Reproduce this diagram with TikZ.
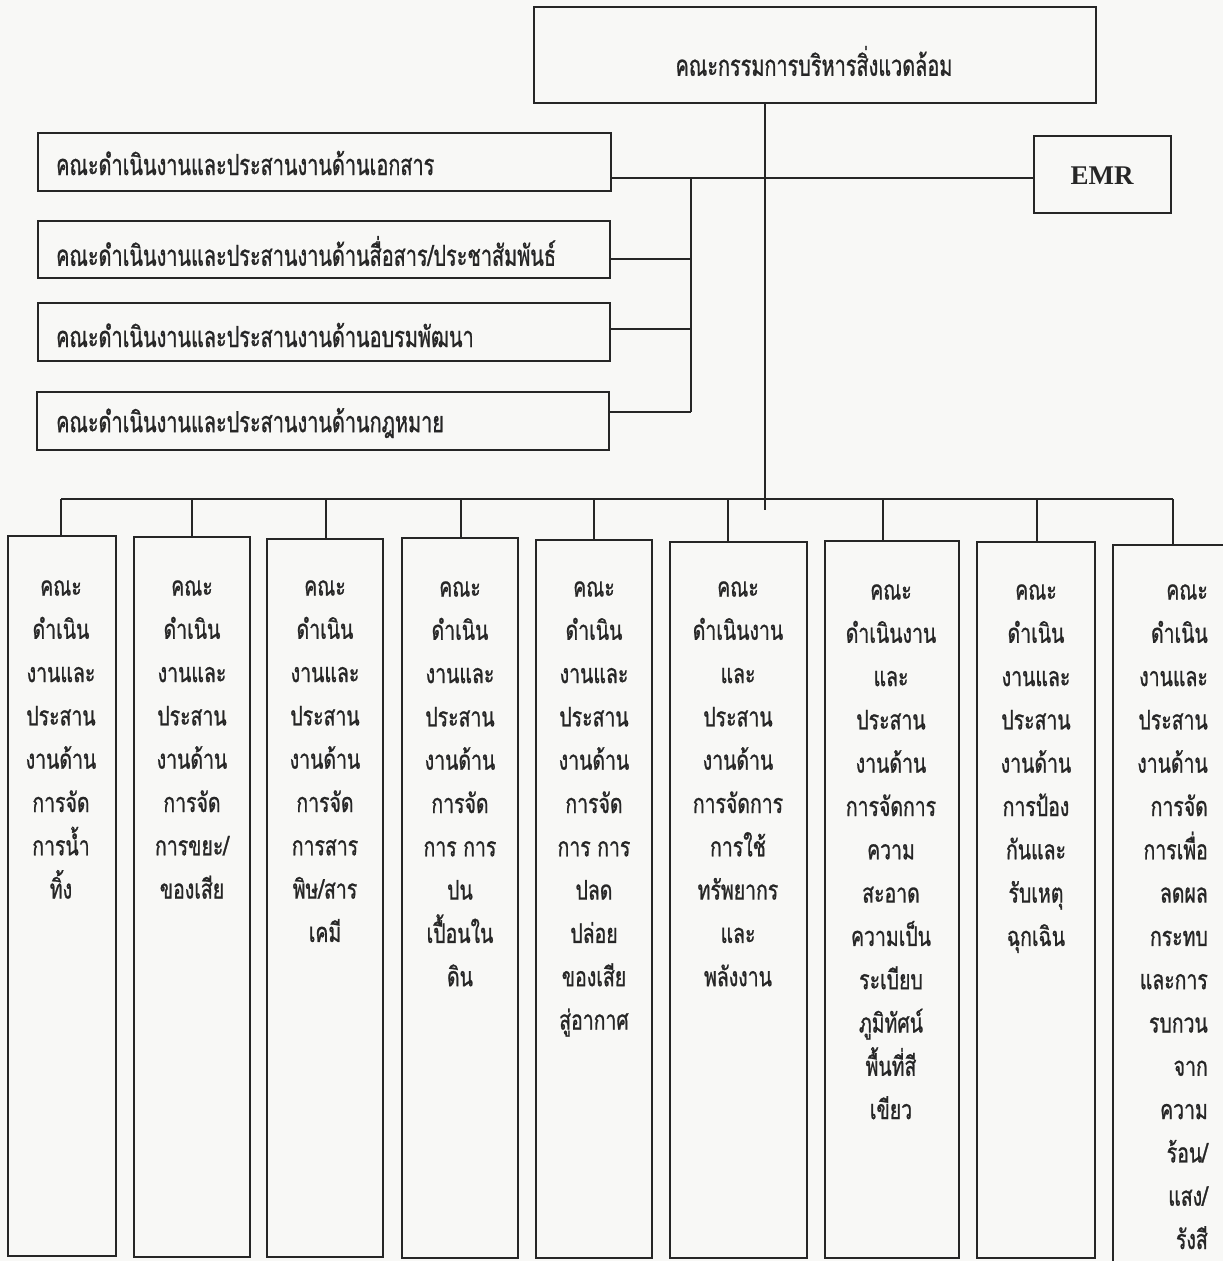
\documentclass[tikz,border=0pt]{standalone}
\usepackage{fontspec}
\setmainfont{Liberation Serif}
\newfontfamily\thai[Script=Thai,FakeStretch=0.72,FakeBold=0.9]{Loma}
\newfontfamily\thaih[Script=Thai,FakeStretch=0.685,FakeBold=0.9]{Loma}
\usetikzlibrary{fit}
\definecolor{ink}{HTML}{262626}
\definecolor{paper}{HTML}{F8F8F6}
\tikzset{
  box/.style={draw=ink, line width=2pt, inner sep=0pt},
  conn/.style={draw=ink, line width=1.9pt},
  vtext/.style={font=\thai\fontsize{27}{43.3}\selectfont, align=center, anchor=north, inner sep=0pt, text=ink},
  vtextr/.style={vtext, align=right, anchor=north east},
  htext/.style={font=\thaih\fontsize{29}{34}\selectfont, anchor=west, inner sep=0pt, text=ink},
}
\begin{document}
\begin{tikzpicture}[x=1pt,y=-1pt]
\useasboundingbox (0,0) rectangle (1223,1261);
\clip (0,0) rectangle (1223,1261);
\fill[paper] (0,0) rectangle (1223,1261);

% top box
\node[box, fit={(534,7) (1096,103)}] (top) {};
\node[htext, anchor=center] (toptxt) at (814,61) {คณะกรรมการบริหารสิ่งแวดล้อม};

% EMR
\node[box, fit={(1034,136) (1171,213)}] (emr) {};
\node[font=\bfseries\fontsize{27}{30}\selectfont, text=ink, inner sep=0pt] (emrtxt) at (1102,176) {EMR};

% left boxes
\node[box, fit={(38,133) (611,191)}] (L1) {};
\node[box, fit={(38,221) (610,278)}] (L2) {};
\node[box, fit={(38,303) (610,361)}] (L3) {};
\node[box, fit={(37,392) (609,450)}] (L4) {};
\node[htext] (L1t) at (56,163) {คณะดำเนินงานและประสานงานด้านเอกสาร};
\node[htext] (L2t) at (56,251) {คณะดำเนินงานและประสานงานด้านสื่อสาร/ประชาสัมพันธ์};
\node[htext] (L3t) at (56,335) {คณะดำเนินงานและประสานงานด้านอบรมพัฒนา};
\node[htext] (L4t) at (56,423) {คณะดำเนินงานและประสานงานด้านกฎหมาย};

% connector coordinates
\coordinate (jM) at (765,178);
\coordinate (mEnd) at (765,510);
\coordinate (jS1) at (691,178);
\coordinate (s2) at (691,259);
\coordinate (s3) at (691,329);
\coordinate (s4) at (691,412);

\draw[conn] (top.south -| jM) -- (mEnd);
\draw[conn] (L1.east |- jM) -- (emr.west |- jM);
\draw[conn] (jS1) -- (s4);
\draw[conn] (L2.east |- s2) -- (s2);
\draw[conn] (L3.east |- s3) -- (s3);
\draw[conn] (L4.east |- s4) -- (s4);

% bottom boxes
\node[box, fit={(8,536) (116,1256)}] (b1) {};
\node[box, fit={(134,537) (250,1257)}] (b2) {};
\node[box, fit={(267,539) (383,1257)}] (b3) {};
\node[box, fit={(402,538) (518,1258)}] (b4) {};
\node[box, fit={(536,540) (652,1258)}] (b5) {};
\node[box, fit={(670,542) (807,1258)}] (b6) {};
\node[box, fit={(825,541) (959,1258)}] (b7) {};
\node[box, fit={(977,542) (1095,1258)}] (b8) {};
\node[box, fit={(1113,545) (1250,1280)}] (b9) {};

% bus and drops
\coordinate (d1) at (61,499);
\coordinate (d2) at (192,499);
\coordinate (d3) at (326,499);
\coordinate (d4) at (461,499);
\coordinate (d5) at (594,499);
\coordinate (d6) at (728,499);
\coordinate (d7) at (883,499);
\coordinate (d8) at (1037,499);
\coordinate (d9) at (1173,499);
\draw[conn] (d1) -- (d9);
\foreach \i in {1,...,9} { \draw[conn] (d\i) -- (b\i.north -| d\i); }

% bottom texts
\node[vtext] (t1) at (61,565) {\strut คณะ\\ดำเนิน\\งานและ\\ประสาน\\งานด้าน\\การจัด\\การน้ำ\\ทิ้ง};
\node[vtext] (t2) at (192,565) {\strut คณะ\\ดำเนิน\\งานและ\\ประสาน\\งานด้าน\\การจัด\\การขยะ/\\ของเสีย};
\node[vtext] (t3) at (325,565) {\strut คณะ\\ดำเนิน\\งานและ\\ประสาน\\งานด้าน\\การจัด\\การสาร\\พิษ/สาร\\เคมี};
\node[vtext] (t4) at (460,566) {\strut คณะ\\ดำเนิน\\งานและ\\ประสาน\\งานด้าน\\การจัด\\การ การ\\ปน\\เปื้อนใน\\ดิน};
\node[vtext] (t5) at (594,566) {\strut คณะ\\ดำเนิน\\งานและ\\ประสาน\\งานด้าน\\การจัด\\การ การ\\ปลด\\ปล่อย\\ของเสีย\\สู่อากาศ};
\node[vtext] (t6) at (738,566) {\strut คณะ\\ดำเนินงาน\\และ\\ประสาน\\งานด้าน\\การจัดการ\\การใช้\\ทรัพยากร\\และ\\พลังงาน};
\node[vtext] (t7) at (891,569) {\strut คณะ\\ดำเนินงาน\\และ\\ประสาน\\งานด้าน\\การจัดการ\\ความ\\สะอาด\\ความเป็น\\ระเบียบ\\ภูมิทัศน์\\พื้นที่สี\\เขียว};
\node[vtext] (t8) at (1036,569) {\strut คณะ\\ดำเนิน\\งานและ\\ประสาน\\งานด้าน\\การป้อง\\กันและ\\รับเหตุ\\ฉุกเฉิน};
\node[vtextr] (t9) at (1208,569) {\strut คณะ\\ดำเนิน\\งานและ\\ประสาน\\งานด้าน\\การจัด\\การเพื่อ\\ลดผล\\กระทบ\\และการ\\รบกวน\\จาก\\ความ\\ร้อน/\\แสง/\\รังสี};
\end{tikzpicture}
\end{document}
